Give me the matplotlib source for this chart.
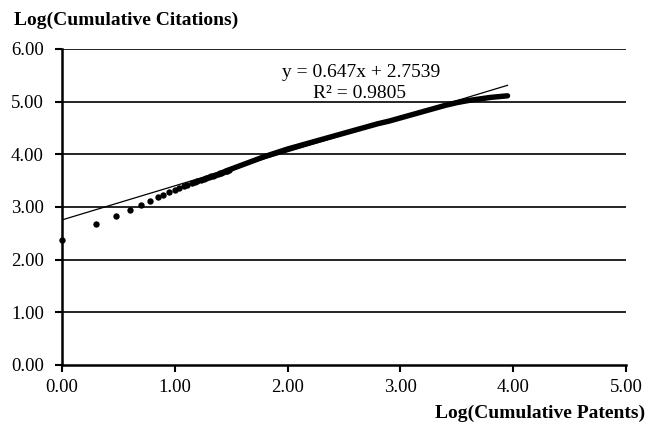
import numpy as np
import matplotlib.pyplot as plt

plt.rcParams['font.family'] = ['Liberation Serif', 'DejaVu Serif']

# sparse points
x_pts = [0.00, 0.30, 0.48, 0.60, 0.70, 0.78, 0.85, 0.90, 0.95, 1.00,
         1.04, 1.08, 1.11, 1.15, 1.18, 1.20, 1.23, 1.26, 1.28, 1.30,
         1.32, 1.34, 1.36, 1.38, 1.40, 1.41, 1.43, 1.45, 1.46, 1.48]
y_pts = [2.37, 2.67, 2.83, 2.95, 3.04, 3.11, 3.18, 3.23, 3.28, 3.33,
         3.36, 3.40, 3.42, 3.45, 3.47, 3.49, 3.51, 3.53, 3.55, 3.56,
         3.58, 3.59, 3.61, 3.62, 3.64, 3.65, 3.66, 3.68, 3.69, 3.70]

# dense part of the series (merges into a band)
x_dense = [1.45, 1.50, 1.60, 1.70, 1.80, 1.90, 2.00, 2.10, 2.20, 2.30,
           2.40, 2.50, 2.60, 2.70, 2.80, 2.90, 3.00, 3.10, 3.20, 3.30,
           3.40, 3.50, 3.60, 3.70, 3.80, 3.90, 3.95]
y_dense = [3.68, 3.72, 3.80, 3.88, 3.96, 4.03, 4.10, 4.16, 4.22, 4.28,
           4.34, 4.40, 4.46, 4.52, 4.58, 4.63, 4.69, 4.75, 4.81, 4.87,
           4.93, 4.98, 5.02, 5.05, 5.08, 5.10, 5.11]

slope, intercept, r2 = 0.647, 2.7539, 0.9805
x_fit = [0.0, 3.95]

fig = plt.figure(figsize=(6.49, 4.30), dpi=100)
ax = fig.add_axes([0.0955, 0.1512, 0.869, 0.735])

for yv in [1, 2, 3, 4, 5, 6]:
    ax.axhline(yv, color='black', lw=1.2, zorder=1)

ax.scatter(x_pts, y_pts, s=21, color='black', zorder=3, linewidths=0, clip_on=False)
ax.plot(x_dense, y_dense, color='black', lw=3.9, solid_capstyle='round',
        solid_joinstyle='round', zorder=3)
ax.plot(x_fit, [slope * v + intercept for v in x_fit], color='black', lw=0.9, zorder=4)

ax.set_xlim(0, 5)
ax.set_ylim(0, 6)
ax.set_xticks(np.arange(0, 5.01, 1))
ax.set_yticks(np.arange(0, 6.01, 1))
ax.set_xticklabels([f"{v:.2f}" for v in range(6)])
ax.set_yticklabels([f"{v:.2f}" for v in range(7)])
ax.tick_params(axis='both', direction='out', length=5, width=1.5, labelsize=13.5)
ax.tick_params(axis='y', pad=8)
ax.tick_params(axis='x', pad=5)

for side in ['top', 'right']:
    ax.spines[side].set_visible(False)
for side in ['left', 'bottom']:
    ax.spines[side].set_linewidth(1.8)

ax.text(2.65, 5.55, f"y = {slope}x + {intercept}", ha='center', va='center', fontsize=14)
ax.text(2.64, 5.15, f"R² = {r2}", ha='center', va='center', fontsize=14)

fig.text(14 / 649, 1 - 20 / 430, "Log(Cumulative Citations)", ha='left', va='center',
         fontsize=14, fontweight='bold')
fig.text(645 / 649, 1 - 413 / 430, "Log(Cumulative Patents)", ha='right', va='center',
         fontsize=14, fontweight='bold')

fig.savefig("out.png", dpi=100)
